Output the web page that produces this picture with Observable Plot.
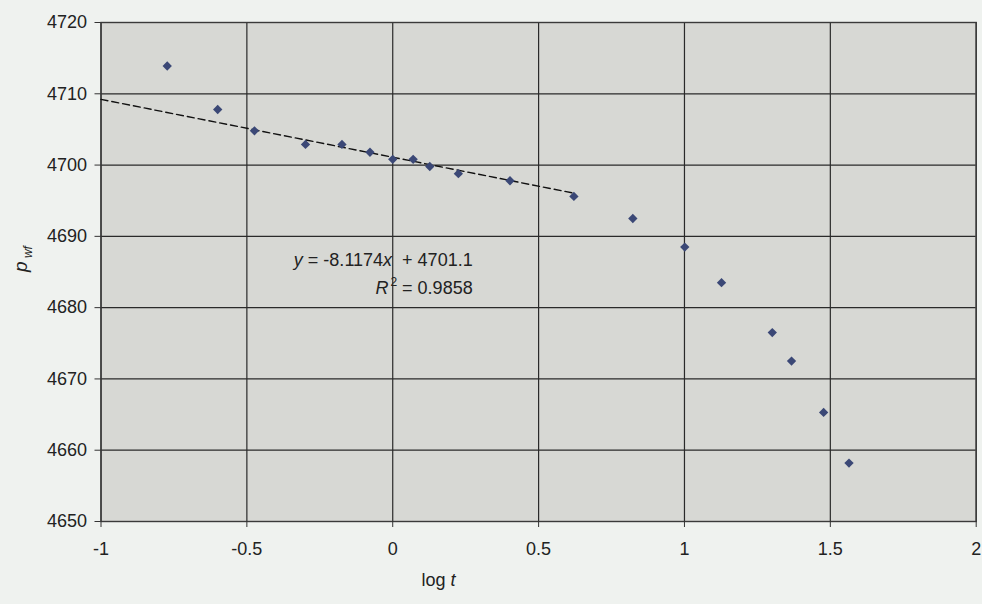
<!DOCTYPE html>
<html>
<head>
<meta charset="utf-8">
<script src="https://cdn.jsdelivr.net/npm/d3@7"></script>
<script src="https://cdn.jsdelivr.net/npm/@observablehq/plot@0.6"></script>
<style>
  html, body { margin: 0; padding: 0; background: #eff2ef; }
  #chart { width: 982px; height: 604px; }
  svg { display: block; }
</style>
</head>
<body>
<div id="chart"></div>
<script>
// Data
const logT = [-0.773, -0.600, -0.474, -0.299, -0.174, -0.078, 0.000, 0.070, 0.127, 0.225, 0.402, 0.621,
              0.823, 1.001, 1.127, 1.301, 1.367, 1.477, 1.564];
const pwf  = [4713.9, 4707.8, 4704.8, 4702.9, 4702.9, 4701.8, 4700.8, 4700.8, 4699.8, 4698.8, 4697.8, 4695.6,
              4692.5, 4688.5, 4683.5, 4676.5, 4672.5, 4665.3, 4658.2];
// Trendline (from the reference equation)
const slope = -8.1174;
const intercept = 4701.1;
const r2 = 0.9858;
const trendRange = [-1, 0.621];
const xTicks = [-1, -0.5, 0, 0.5, 1, 1.5, 2];
const yTicks = [4650, 4660, 4670, 4680, 4690, 4700, 4710, 4720];
const eqLines = ["y = -8.1174x  + 4701.1", "R2 = 0.9858"];

const points = logT.map((x, i) => ({x, y: pwf[i]}));
const trend = trendRange.map(x => ({x, y: slope * x + intercept}));

const font = "Liberation Sans, Arial, sans-serif";

const plot = Plot.plot({
  width: 982,
  height: 604,
  marginLeft: 100.5,
  marginRight: 6.3,
  marginTop: 22,
  marginBottom: 83,
  style: {background: "transparent", fontFamily: font, fontSize: "18px", color: "#222"},
  x: {domain: [-1, 2], ticks: xTicks, tickFormat: d => String(d), label: null},
  y: {domain: [4650, 4720], ticks: yTicks, tickFormat: d => String(d), label: null},
  marks: [
    Plot.frame({fill: "#d7d8d4", stroke: null}),
    Plot.gridX(xTicks, {stroke: "#2a2a2a", strokeOpacity: 1, strokeWidth: 1.2}),
    Plot.gridY(yTicks, {stroke: "#2a2a2a", strokeOpacity: 1, strokeWidth: 1.2}),
    Plot.frame({stroke: "#3a3a3a", strokeWidth: 1.4}),
    Plot.axisX(xTicks, {tickSize: 6, tickPadding: 15, tickFormat: d => String(d), stroke: "#333", fill: "#222"}),
    Plot.axisY(yTicks, {tickSize: 6, tickPadding: 8, tickFormat: d => String(d), stroke: "#333", fill: "#222"}),
    Plot.line(trend, {x: "x", y: "y", stroke: "#111", strokeWidth: 1.4, strokeDasharray: "7,4"}),
    Plot.dot(points, {x: "x", y: "y", symbol: "diamond2", r: 4.2, fill: "#3b4876", stroke: null}),
    Plot.text([eqLines[0]], {x: 0.274, y: 4685.9, text: d => d, textAnchor: "end", lineAnchor: "bottom", fontSize: 18, fill: "#222", className: "eq1"}),
    Plot.text([eqLines[1]], {x: 0.274, y: 4681.9, text: d => d, textAnchor: "end", lineAnchor: "bottom", fontSize: 18, fill: "#222", className: "eq2"}),
    Plot.text(["log t"], {frameAnchor: "bottom", dx: -100, dy: 64, lineAnchor: "bottom", fontSize: 18, fill: "#222", className: "xlab"}),
    Plot.text(["p wf"], {frameAnchor: "left", dx: -80, rotate: -90, fontSize: 19, fill: "#222", className: "ylab"})
  ]
});

document.getElementById("chart").appendChild(plot);

const svg = d3.select(plot);
svg.selectAll('[aria-label="x-axis tick label"], [aria-label="y-axis tick label"]')
  .attr("font-size", 18).style("font-size", "18px");

// Rich text: italics, superscript, subscript
svg.selectAll(".eq1 text").each(function() {
  const t = d3.select(this); t.text(null);
  t.append("tspan").attr("font-style", "italic").text("y");
  t.append("tspan").text(" = " + slope.toFixed(4));
  t.append("tspan").attr("font-style", "italic").text("x");
  t.append("tspan").text("  + " + intercept.toFixed(1));
});
svg.selectAll(".eq2 text").each(function() {
  const t = d3.select(this); t.text(null);
  t.append("tspan").attr("font-style", "italic").text("R");
  t.append("tspan").attr("font-size", 12).attr("dx", 2).attr("dy", -8).text("2");
  t.append("tspan").attr("dy", 8).text(" = " + r2.toFixed(4));
});
svg.selectAll(".xlab text").each(function() {
  const t = d3.select(this); t.text(null);
  t.append("tspan").text("log ");
  t.append("tspan").attr("font-style", "italic").text("t");
});
svg.selectAll(".ylab text").each(function() {
  const t = d3.select(this); t.text(null);
  t.append("tspan").attr("font-style", "italic").text("p");
  t.append("tspan").attr("font-style", "italic").attr("font-size", 12).attr("dy", 5).text(" wf");
});
</script>
</body>
</html>
